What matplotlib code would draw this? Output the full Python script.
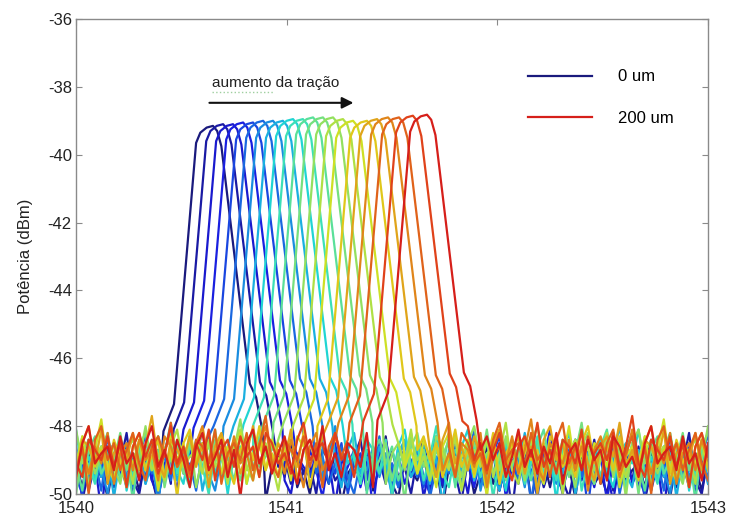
import numpy as np
import matplotlib
matplotlib.use('Agg')
import matplotlib.pyplot as plt
from matplotlib import cm

plt.rcParams['font.family'] = ['Liberation Sans', 'DejaVu Sans']
plt.rcParams['axes.unicode_minus'] = False

# peak wavelength (nm) and peak power (dBm) of each spectrum, 0 um -> 200 um
peak_wl = [1540.650, 1540.698, 1540.745, 1540.793, 1540.840, 1540.888, 1540.935,
           1540.982, 1541.030, 1541.077, 1541.125, 1541.172, 1541.220, 1541.267,
           1541.315, 1541.381, 1541.429, 1541.481, 1541.533, 1541.599, 1541.666]
peak_dbm = [-39.15, -39.10, -39.10, -39.05, -39.05, -39.00, -39.00, -39.00, -38.95,
            -38.95, -38.90, -38.90, -38.90, -38.95, -39.00, -39.00, -38.95, -38.90,
            -38.90, -38.85, -38.82]

# noise floor level of each spectrum (dBm)
floor_dbm = [-49.4, -49.3, -49.3, -49.2, -49.2, -49.2, -49.1, -49.1, -49.0, -49.1, -49.0,
             -49.0, -48.9, -49.0, -48.9, -48.9, -48.8, -48.9, -48.8, -48.8, -48.9]
noise_start = [0, 41, 17, 63, 29, 75, 8, 52, 34, 81, 12, 58, 23, 70, 45, 5, 37, 66, 19, 50, 84]

# noise floor wiggle (dB around the floor level)
noise_dev = [0.3, -0.4, 0.6, -0.2, 0.1, -0.7, 0.4, 0.9, -0.3, 0.2, -0.5, 0.5, -0.1, -0.9,
             0.3, 0.7, -0.4, 0.0, 0.5, -0.6, 0.2, -1.2, 0.4, 0.8, -0.2, 0.3, -0.5, 0.1,
             0.6, -0.3, -0.8, 0.2, 0.5, -0.1, 0.9, -0.4, 0.1, -0.6, 0.4, 0.2, -0.3, 0.7,
             -0.9, 0.0, 0.3, -0.2, 0.6, -0.5, 0.2, 1.1, -0.3, -0.7, 0.4, 0.1, -0.2, 0.5,
             -0.4, 0.3, -1.0, 0.2, 0.6, -0.1, 0.4, -0.6, 0.0, 0.8, -0.3, 0.2, -0.5, 0.3,
             -0.2, 0.7, -0.8, 0.1, 0.4, -0.4, 0.5, -0.1, 0.2, -0.7, 0.6, 0.3, -0.3, 0.0,
             -0.6, 0.4, 0.9, -0.2, 0.1]

# grating reflection shape relative to its peak (nm, dB)
shape_dx = [-0.235, -0.185, -0.080, -0.060, -0.030, 0.000, 0.020, 0.040, 0.175, 0.205, 0.235]
shape_dy = [-9.0, -8.2, -0.5, -0.2, -0.05, 0.0, -0.15, -0.6, -7.6, -8.0, -9.0]

wl_grid = np.round(np.arange(1540.0, 1543.0001, 0.03), 3)

legend_labels = ['0 um', '200 um']

fig = plt.figure(figsize=(7.31, 5.18), dpi=100)
ax = fig.add_axes([0.104, 0.0463, 0.8646, 0.917])

n = len(peak_wl)
colors = cm.jet(np.linspace(0.0, 0.9, n))
colors[:, :3] = colors[:, :3] * 0.78 + 0.1

lines = []
for i in range(n):
    dev = np.array([noise_dev[(noise_start[i] + k) % len(noise_dev)] for k in range(len(wl_grid))])
    floor = floor_dbm[i] + dev
    left = wl_grid < peak_wl[i] + shape_dx[0]
    right = wl_grid > peak_wl[i] + shape_dx[-1]
    x = np.concatenate([wl_grid[left], peak_wl[i] + np.array(shape_dx), wl_grid[right]])
    y = np.concatenate([floor[left], peak_dbm[i] + np.array(shape_dy), floor[right]])
    ln, = ax.plot(x, y, color=colors[i], lw=1.6)
    lines.append(ln)

ax.set_xlim(1540, 1543)
ax.set_ylim(-50, -36)
ax.set_xticks([1540, 1541, 1542, 1543])
ax.set_yticks(range(-50, -35, 2))
ax.set_ylabel('Potência (dBm)', fontsize=12, color='#222222')
ax.yaxis.set_label_coords(-0.068, 0.5)

for s in ax.spines.values():
    s.set_color('#8a8a8a')
    s.set_linewidth(1.0)
ax.tick_params(direction='in', length=4, width=0.8, color='#8a8a8a',
               top=True, right=True, labelsize=12, labelcolor='#222222')
ax.tick_params(axis='y', pad=3)
ax.tick_params(axis='x', pad=5)

# annotation arrow
ax.annotate('', xy=(1541.33, -38.47), xytext=(1540.62, -38.47),
            arrowprops=dict(arrowstyle='-|>', color='#111111', lw=1.5, mutation_scale=17))
ax.text(1540.645, -37.88, 'aumento da tração', fontsize=11, color='#222222',
        ha='left', va='center')
ax.plot([1540.645, 1540.94], [-38.16, -38.16], color='#9fcf9f', lw=1.0, ls=':')

ax.legend([lines[0], lines[-1]], legend_labels, loc='upper left',
          bbox_to_anchor=(0.715, 0.894), frameon=False, fontsize=12,
          handlelength=3.85, handletextpad=1.55, labelspacing=1.6, borderpad=0,
          borderaxespad=0)

fig.savefig('out.png', dpi=100)
